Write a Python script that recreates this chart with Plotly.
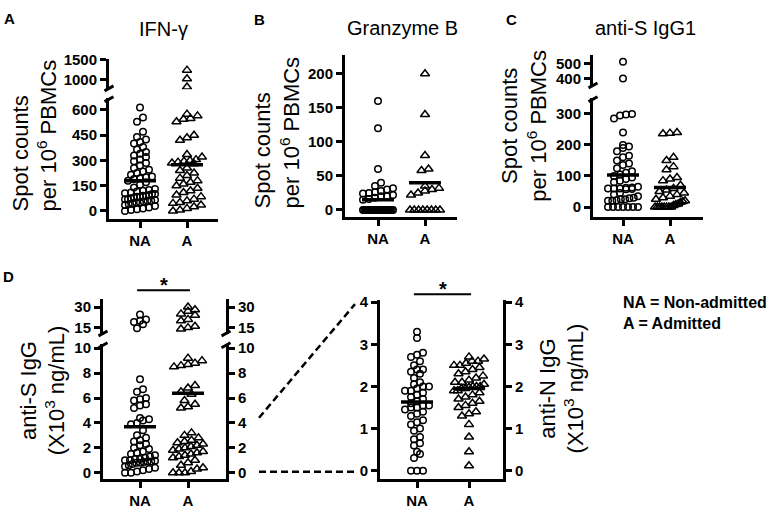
import plotly.graph_objects as go

W, H = 776, 510

# ---------------- data ----------------
categories = ["NA", "A"]

ifn_na = [615, 555, 530, 470, 440, 425, 410, 400, 380, 365, 350, 340, 330, 320,
          305, 295, 285, 270, 255, 245, 235, 225, 215, 205, 200, 195, 190, 180,
          170, 155, 140, 130, 125, 120, 115, 110, 105, 100, 100, 95, 90, 90, 85,
          85, 80, 75, 70, 70, 65, 60, 60, 55, 50, 50, 45, 40, 35, 30, 20, 15, 10, 5, 0]
ifn_a = [1240, 1020, 810, 575, 565, 550, 545, 530, 450, 435, 420, 335, 320, 305,
         300, 295, 290, 285, 280, 255, 240, 225, 210, 195, 180, 170, 160, 150,
         135, 120, 110, 95, 85, 70, 60, 50, 45, 35, 25, 15, 5, 0]
ifn_center = [180, 274]

gzb_na = [160, 120, 60, 40, 35, 32, 30, 28, 26, 25, 24, 22, 20, 20, 18, 16, 15,
          0, 0, 0, 0, 0, 0, 0, 0, 0, 0, 0, 0, 0, 0, 0, 0, 0, 0, 0, 0, 0, 0, 0, 0, 0, 0]
gzb_a = [200, 140, 80, 60, 58, 35, 32, 30, 28, 25, 22, 0, 0, 0, 0, 0, 0, 0, 0]
gzb_center = [15, 40]

sig1_na = [515, 400, 300, 298, 295, 285, 240, 200, 195, 190, 180, 165, 160, 150,
           140, 135, 125, 115, 110, 105, 100, 95, 90, 85, 80, 65, 63, 62, 60, 60,
           60, 58, 57, 45, 40, 35, 30, 28, 25, 25, 22, 20, 20, 0, 0, 0, 0, 0, 0, 0]
sig1_a = [240, 238, 236, 160, 150, 130, 120, 95, 90, 85, 70, 60, 55, 50, 45, 40,
          35, 30, 25, 20, 18, 15, 10, 8, 5, 0, 0, 0, 0, 0, 0, 0, 0]
sig1_center = [103, 63]

sigg_na = [24.5, 21, 20, 19, 17.5, 14.5, 7.5, 6.7, 6.5, 6.0, 5.9, 5.8, 5.5, 5.4,
           5.2, 4.4, 4.3, 4.2, 4.0, 3.9, 3.4, 3.0, 2.8, 2.6, 2.5, 2.3, 2.2, 2.0,
           1.9, 1.7, 1.6, 1.5, 1.4, 1.3, 1.2, 1.1, 1.1, 1.0, 1.0, 0.95, 0.9, 0.9,
           0.85, 0.8, 0.8, 0.7, 0.6, 0.5, 0.4, 0.3, 0.2, 0.1, 0.0, 0.0]
sigg_a = [30, 28, 27, 25, 24, 21, 20, 16, 15, 14, 9.2, 9.0, 8.8, 8.7, 8.6, 8.5,
          7.0, 6.8, 6.5, 6.3, 5.8, 5.5, 5.3, 5.2, 3.2, 3.0, 2.8, 2.6, 2.5, 2.4,
          2.3, 2.2, 2.1, 2.0, 1.9, 1.8, 1.7, 1.6, 1.5, 1.4, 1.3, 1.2, 1.0, 0.8,
          0.6, 0.4, 0.3, 0.1, 0.0, 0.0, 0.0]
sigg_center = [3.7, 6.38]

nigg_na = [3.3, 3.15, 2.8, 2.75, 2.7, 2.6, 2.5, 2.4, 2.4, 2.35, 2.3, 2.2, 2.1,
           2.05, 2.0, 2.0, 1.95, 1.9, 1.9, 1.85, 1.8, 1.75, 1.7, 1.65, 1.6, 1.55,
           1.55, 1.5, 1.5, 1.45, 1.4, 1.35, 1.3, 1.2, 1.15, 1.1, 1.0, 0.95, 0.8,
           0.75, 0.65, 0.6, 0.45, 0.4, 0.3, 0.0, 0.0, 0.0]
nigg_a = [2.7, 2.65, 2.6, 2.6, 2.55, 2.5, 2.5, 2.45, 2.4, 2.35, 2.3, 2.25, 2.2,
          2.15, 2.1, 2.1, 2.05, 2.0, 2.0, 2.0, 1.98, 1.95, 1.95, 1.9, 1.9, 1.85,
          1.8, 1.75, 1.7, 1.65, 1.6, 1.55, 1.5, 1.4, 1.35, 1.3, 1.1, 0.8, 0.45, 0.12]
nigg_center = [1.63, 1.95]

# ---------------- helpers ----------------
FONT = "Liberation Sans, Arial, Helvetica, sans-serif"


def fx(p):
    return p / W


def fy(p):
    return 1 - p / H


fig = go.Figure()
layout = {}
shapes = []
annotations = []

axis_style = dict(showline=True, linecolor="black", linewidth=3, ticks="outside",
                  tickwidth=3, ticklen=6, tickcolor="black", showgrid=False,
                  zeroline=False, fixedrange=True,
                  tickfont=dict(family=FONT, size=15, color="black", weight="bold"))


def seg_geom(seg):
    (v1, p1), (v2, p2) = seg["ref"]
    ppu = (p1 - p2) / (v2 - v1)
    top, bot = seg["dom"]
    lo = v1 - (bot - p1) / ppu
    hi = v1 + (p1 - top) / ppu
    return ppu, lo, hi


def swarm_offsets(pys, diam, maxw):
    order = sorted(range(len(pys)), key=lambda i: -pys[i])
    offs = [0.0] * len(pys)
    bins, cur, start = [], [], None
    for i in order:
        if start is None or start - pys[i] >= diam:
            if cur:
                bins.append(cur)
            cur, start = [i], pys[i]
        else:
            cur.append(i)
    if cur:
        bins.append(cur)
    for b in bins:
        n = len(b)
        if n == 1:
            continue
        s = diam
        if (n - 1) * s > maxw:
            s = maxw / (n - 1)
        for k, i in enumerate(b):
            offs[i] = (k - (n - 1) / 2) * s
    return offs


def axname(key):
    return key[0] + "axis" + key[1:]


def break_mark(xp, yp):
    shapes.append(dict(type="line", xref="paper", yref="paper",
                       x0=fx(xp - 4.5), y0=fy(yp + 2.5), x1=fx(xp + 4.5), y1=fy(yp - 2.5),
                       line=dict(color="black", width=3)))


def build_panel(xkey, xdom, cat_px, segs, groups, centers, right=False):
    x0, x1 = xdom
    ppx = cat_px[1] - cat_px[0]
    xr = [(x0 - cat_px[0]) / ppx, 1 + (x1 - cat_px[1]) / ppx]
    layout[axname(xkey)] = dict(axis_style, domain=[fx(x0), fx(x1)], range=xr,
                                anchor=segs[0]["ya"], tickvals=[0, 1],
                                ticktext=categories)
    geoms = []
    for s in segs:
        ppu, lo, hi = seg_geom(s)
        geoms.append((ppu, lo, hi))
        ycfg = dict(axis_style, domain=[fy(s["dom"][1]), fy(s["dom"][0])],
                    range=[lo, hi], anchor=xkey, tickvals=s["ticks"],
                    ticktext=[str(t) for t in s["ticks"]])
        layout[axname(s["ya"])] = ycfg
        if right:
            rcfg = dict(ycfg, side="right", overlaying=s["ya"])
            rcfg.pop("domain")
            layout[axname(s["rya"])] = rcfg
            fig.add_trace(go.Scatter(x=[None], y=[None], xaxis=xkey, yaxis=s["rya"],
                                     hoverinfo="skip", showlegend=False))
    if len(segs) > 1:
        for xp in ([x0, x1] if right else [x0]):
            break_mark(xp, segs[0]["dom"][0] + 1)
            break_mark(xp, segs[1]["dom"][1] - 1)

    for gi, (vals, sym, size, diam) in enumerate(groups):
        seg_idx = [0 if v <= segs[0]["cut"] else 1 for v in vals]
        pys = []
        for v, si in zip(vals, seg_idx):
            ppu, lo, hi = geoms[si]
            pys.append(segs[si]["dom"][1] - (v - lo) * ppu)
        offs = swarm_offsets(pys, diam, 30)
        for si in range(len(segs)):
            xs = [gi + offs[k] / ppx for k in range(len(vals)) if seg_idx[k] == si]
            ys = [vals[k] for k in range(len(vals)) if seg_idx[k] == si]
            if xs:
                fig.add_trace(go.Scatter(
                    x=xs, y=ys, xaxis=xkey, yaxis=segs[si]["ya"], mode="markers",
                    marker=dict(symbol=sym, size=size, color="black",
                                line=dict(color="black", width=1.5)),
                    hoverinfo="skip", showlegend=False))
    hw = 16 / ppx
    for gi, c in enumerate(centers):
        fig.add_trace(go.Scatter(x=[gi - hw, gi + hw], y=[c, c], xaxis=xkey,
                                 yaxis=segs[0]["ya"], mode="lines",
                                 line=dict(color="black", width=3.5),
                                 hoverinfo="skip", showlegend=False))


CIRC = ("circle-open", 6.5, 6)
TRI = ("triangle-up-open", 8, 7)


def grp(vals, style):
    return (vals,) + style


# Panel A
build_panel("x", (109, 218), (140, 187),
            [dict(ya="y", dom=(92, 215), ref=((0, 207), (600, 104)),
                  ticks=[0, 150, 300, 450, 600], cut=700),
             dict(ya="y2", dom=(52, 83), ref=((1000, 73), (1500, 53)),
                  ticks=[1000, 1500])],
            [grp(ifn_na, CIRC), grp(ifn_a, TRI)], ifn_center)

# Panel B
build_panel("x2", (345, 457), (378, 425),
            [dict(ya="y3", dom=(48, 213), ref=((0, 206), (200, 67)),
                  ticks=[0, 50, 100, 150, 200], cut=1e9)],
            [grp(gzb_na, CIRC), grp(gzb_a, TRI)], gzb_center)

# Panel C
build_panel("x3", (593, 703), (623, 670),
            [dict(ya="y4", dom=(92, 213), ref=((0, 203), (300, 108)),
                  ticks=[0, 100, 200, 300], cut=350),
             dict(ya="y5", dom=(48, 80), ref=((400, 72), (500, 57)),
                  ticks=[400, 500])],
            [grp(sig1_na, CIRC), grp(sig1_a, TRI)], sig1_center)

# Panel D left
build_panel("x4", (103, 226), (140, 188),
            [dict(ya="y6", rya="y8", dom=(343, 480), ref=((0, 474), (10, 347)),
                  ticks=[0, 2, 4, 6, 8, 10], cut=10.3),
             dict(ya="y7", rya="y9", dom=(297, 333), ref=((15, 326), (30, 305)),
                  ticks=[15, 30])],
            [grp(sigg_na, CIRC), grp(sigg_a, TRI)], sigg_center, right=True)

# Panel D right
build_panel("x5", (380, 503), (417, 469),
            [dict(ya="y10", rya="y11", dom=(298, 480), ref=((0, 472), (4, 300)),
                  ticks=[0, 1, 2, 3, 4], cut=1e9)],
            [grp(nigg_na, CIRC), grp(nigg_a, TRI)], nigg_center, right=True)

# significance bars
for (xa, ya_px) in [("x4", 288), ("x5", 292)]:
    shapes.append(dict(type="line", xref=xa, yref="paper", x0=-0.06, x1=1.04,
                       y0=fy(ya_px), y1=fy(ya_px), line=dict(color="black", width=2)))
annotations.append(dict(x=0.5, xref="x4", y=fy(283), yref="paper", text="<b>*</b>",
                        showarrow=False, font=dict(family=FONT, size=20, color="black")))
annotations.append(dict(x=0.5, xref="x5", y=fy(287), yref="paper", text="<b>*</b>",
                        showarrow=False, font=dict(family=FONT, size=20, color="black")))

# dashed zoom connectors
for (a, b, c, d) in [(259, 418, 355, 302), (259, 473, 357, 473)]:
    shapes.append(dict(type="line", xref="paper", yref="paper", x0=fx(a), y0=fy(b),
                       x1=fx(c), y1=fy(d),
                       line=dict(color="black", width=2.5, dash="7px,4px")))


def ann(text, xp, yp, size, bold=False, angle=0, align="center", xanchor="center"):
    annotations.append(dict(text=("<b>%s</b>" % text) if bold else text,
                            x=fx(xp), y=fy(yp), xref="paper", yref="paper",
                            showarrow=False, textangle=angle, align=align,
                            xanchor=xanchor, yanchor="middle",
                            font=dict(family=FONT, size=size, color="black")))


# panel titles
ann("IFN-γ", 163, 21, 20)
ann("Granzyme B", 402, 20, 20)
ann("anti-S IgG1", 645, 20, 20)
# panel letters
ann("A", 9, 11, 15, bold=True)
ann("B", 259, 12, 15, bold=True)
ann("C", 511, 12, 15, bold=True)
ann("D", 8, 274, 15, bold=True)
# y titles
ann("Spot counts<br>per 10<sup>6</sup> PBMCs", 35, 130, 22, angle=-90, align="left")
ann("Spot counts<br>per 10<sup>6</sup> PBMCs", 277, 127, 22, angle=-90, align="left")
ann("Spot counts<br>per 10<sup>6</sup> PBMCs", 524, 120, 22, angle=-90)
ann("anti-S IgG<br>(X10<sup>3</sup> ng/mL)", 43, 390, 22, angle=-90)
ann("anti-N IgG<br>(X10<sup>3</sup> ng/mL)", 562, 388, 22, angle=-90)
# legend text
ann("NA = Non-admitted", 621, 300, 16, bold=True, xanchor="left")
ann("A = Admitted", 621, 322, 16, bold=True, xanchor="left")

fig.update_layout(width=W, height=H, margin=dict(l=0, r=0, t=0, b=0),
                  paper_bgcolor="white", plot_bgcolor="white", showlegend=False,
                  shapes=shapes, annotations=annotations, **layout)

post = ("document.documentElement.style.margin='0';"
        "document.documentElement.style.overflow='hidden';"
        "document.body.style.margin='0';document.body.style.padding='0';"
        "document.body.style.overflow='hidden';"
        "var d=document.getElementById('{plot_id}');"
        "d.style.position='fixed';d.style.left='0px';d.style.top='0px';")

fig.write_html("out.html", config={"displayModeBar": False}, post_script=post)
